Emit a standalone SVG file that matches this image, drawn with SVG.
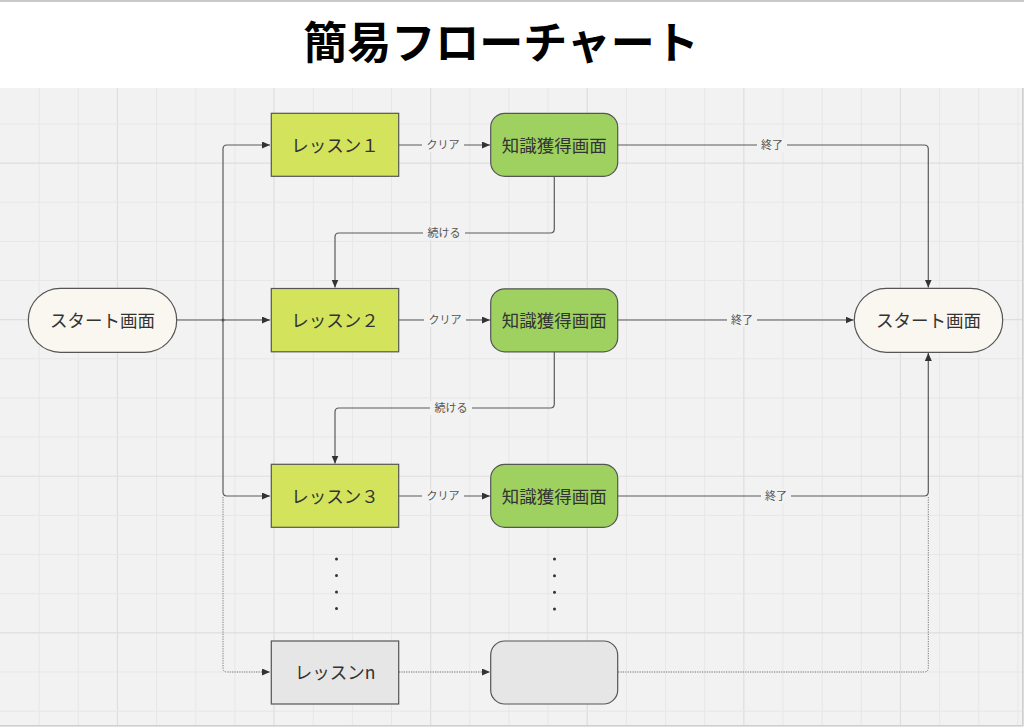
<svg xmlns="http://www.w3.org/2000/svg" width="1024" height="727" viewBox="0 0 1024 727">
<style>
.title{font-family:"Noto Sans CJK JP","Noto Sans",sans-serif;font-weight:700;font-size:44px;fill:#000}
.nt{font-family:"Noto Sans CJK JP","Noto Sans",sans-serif;font-size:17.5px;fill:#333;text-anchor:middle}
.lb{font-family:"Noto Sans CJK JP","Noto Sans",sans-serif;font-size:11px;fill:#555;text-anchor:middle}
.lbg{fill:#F2F2F2}
.edge{fill:none;stroke:#5a5a5a;stroke-width:1.2}
.dot{fill:none;stroke:#777;stroke-width:1;stroke-dasharray:1.2 1.2}
.pill{fill:#FAF6F0;stroke:#555;stroke-width:1.2}
.lesson{fill:#D3E45C;stroke:#555;stroke-width:1.2}
.know{fill:#9FD161;stroke:#555;stroke-width:1.2}
.grey{fill:#E6E6E6;stroke:#555;stroke-width:1.2}
.minor{stroke:#E7E7E7;stroke-width:1}
.major{stroke:#DEDEDE;stroke-width:1.2}
</style>
<defs>
<marker id="arr" markerUnits="userSpaceOnUse" markerWidth="9" markerHeight="8" refX="8" refY="3.5" orient="auto">
<path d="M0,0 L8,3.5 L0,7 z" fill="#333"/>
</marker>
</defs>
<rect x="0" y="0" width="1024" height="727" fill="#FFFFFF"/>
<rect x="0" y="88" width="1024" height="639" fill="#F2F2F2"/>
<g id="grid">
<path class="minor" d="M39.15,88V725M78.3,88V725M156.6,88V725M195.75,88V725M234.9,88V725M313.2,88V725M352.35,88V725M391.5,88V725M469.8,88V725M508.95,88V725M548.1,88V725M626.4,88V725M665.55,88V725M704.7,88V725M783,88V725M822.15,88V725M861.3,88V725M939.6,88V725M978.75,88V725M1017.9,88V725"/>
<path class="major" d="M117.45,88V725M274.05,88V725M430.65,88V725M587.25,88V725M743.85,88V725M900.45,88V725"/>
<path class="minor" d="M0,123.9H1022M0,202.2H1022M0,241.35H1022M0,280.5H1022M0,358.8H1022M0,397.95H1022M0,437.1H1022M0,515.4H1022M0,554.55H1022M0,593.7H1022M0,672H1022M0,711.15H1022"/>
<path class="major" d="M0,163.05H1022M0,319.65H1022M0,476.25H1022M0,632.85H1022"/>
</g>
<path d="M0,1H1024" stroke="#C9C9C9" stroke-width="2"/>
<path d="M1022.8,88V726M0,725.8H1023" stroke="#CFCFCF" stroke-width="1.6" fill="none"/>
<text class="title" x="501" y="58.5" text-anchor="middle">簡易フローチャート</text>

<g id="connectors">
<path class="edge" d="M177,320H270" marker-end="url(#arr)"/>
<path class="edge" d="M223,320V149Q223,145 227,145H270" marker-end="url(#arr)"/>
<path class="edge" d="M223,320V492Q223,496 227,496H270" marker-end="url(#arr)"/>
<circle cx="223" cy="320" r="1.6" fill="#555"/>
<path class="dot" d="M223,497V668Q223,672 227,672H270" marker-end="url(#arr)"/>
<path class="edge" d="M399,145H490" marker-end="url(#arr)"/>
<path class="edge" d="M399,320H490" marker-end="url(#arr)"/>
<path class="edge" d="M399,496H490" marker-end="url(#arr)"/>
<path class="dot" d="M399,672H490" marker-end="url(#arr)"/>
<path class="edge" d="M554.3,176V229Q554.3,233 550.3,233H339Q335,233 335,237V287.5" marker-end="url(#arr)"/>
<path class="edge" d="M554.3,352V404Q554.3,408 550.3,408H339Q335,408 335,412V463.5" marker-end="url(#arr)"/>
<path class="edge" d="M618,145H924Q928.3,145 928.3,149V287.5" marker-end="url(#arr)"/>
<path class="edge" d="M618,320H853.5" marker-end="url(#arr)"/>
<path class="edge" d="M618,496H924Q928.3,496 928.3,492V353" marker-end="url(#arr)"/>
<path class="dot" d="M618,672H924Q928.3,672 928.3,668V497"/>
<rect class="lbg" x="422" y="138" width="42" height="14"/>
<text class="lb" x="443" y="149">クリア</text>
<rect class="lbg" x="424" y="313" width="42" height="14"/>
<text class="lb" x="445" y="324">クリア</text>
<rect class="lbg" x="422" y="489" width="42" height="14"/>
<text class="lb" x="443" y="500">クリア</text>
<rect class="lbg" x="423" y="226" width="42" height="14"/>
<text class="lb" x="444" y="237">続ける</text>
<rect class="lbg" x="430" y="401" width="42" height="14"/>
<text class="lb" x="451" y="412">続ける</text>
<rect class="lbg" x="757" y="138" width="30" height="14"/>
<text class="lb" x="772" y="149">終了</text>
<rect class="lbg" x="727" y="313" width="30" height="14"/>
<text class="lb" x="742" y="324">終了</text>
<rect class="lbg" x="761" y="489" width="30" height="14"/>
<text class="lb" x="776" y="500">終了</text>
</g>

<g id="start-left">
<rect class="pill" x="28.3" y="288.3" width="148.4" height="64" rx="32"/>
<text class="nt" x="102.5" y="326.7">スタート画面</text>
</g>
<g id="start-right">
<rect class="pill" x="854.3" y="288.3" width="148.4" height="64" rx="32"/>
<text class="nt" x="928.5" y="326.7">スタート画面</text>
</g>

<g id="lesson1">
<rect class="lesson" x="271.3" y="113.3" width="127.4" height="63"/>
<text class="nt" x="335" y="151.5">レッスン１</text>
</g>
<g id="lesson2">
<rect class="lesson" x="271.3" y="288.5" width="127.4" height="63.3"/>
<text class="nt" x="335" y="326.7">レッスン２</text>
</g>
<g id="lesson3">
<rect class="lesson" x="271.3" y="464.3" width="127.4" height="63"/>
<text class="nt" x="335" y="502.5">レッスン３</text>
</g>
<g id="lessonN">
<rect class="grey" x="271.3" y="641" width="127.4" height="63"/>
<text class="nt" x="335" y="679">レッスンn</text>
</g>

<g id="know1">
<rect class="know" x="490.7" y="113.3" width="127" height="63" rx="14"/>
<text class="nt" x="554.2" y="151.5">知識獲得画面</text>
</g>
<g id="know2">
<rect class="know" x="490.7" y="288.8" width="127" height="63" rx="14"/>
<text class="nt" x="554.2" y="326.7">知識獲得画面</text>
</g>
<g id="know3">
<rect class="know" x="490.7" y="464.3" width="127" height="63" rx="14"/>
<text class="nt" x="554.2" y="502.5">知識獲得画面</text>
</g>
<g id="knowN">
<rect class="grey" x="490.7" y="641" width="127" height="63" rx="14"/>
</g>

<g id="ellipsis-left" fill="#333">
<circle cx="336.5" cy="559" r="1.5"/>
<circle cx="336.5" cy="575.5" r="1.5"/>
<circle cx="336.5" cy="592" r="1.5"/>
<circle cx="336.5" cy="608.5" r="1.5"/>
</g>
<g id="ellipsis-right" fill="#333">
<circle cx="554.5" cy="559" r="1.5"/>
<circle cx="554.5" cy="575.7" r="1.5"/>
<circle cx="554.5" cy="592.2" r="1.5"/>
<circle cx="554.5" cy="609" r="1.5"/>
</g>
</svg>
